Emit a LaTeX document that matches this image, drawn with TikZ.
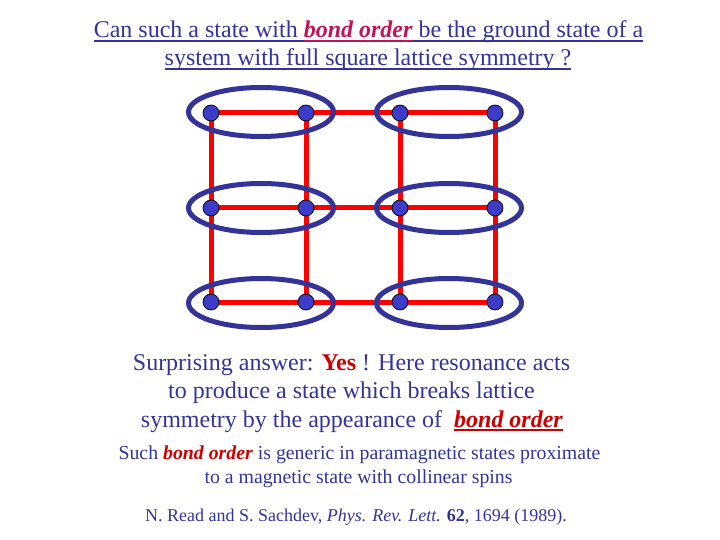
\documentclass[tikz,border=0pt]{standalone}
\usepackage{fontspec}
\setmainfont{Liberation Serif}
\usetikzlibrary{shapes.geometric}
\newcommand\myul[1]{\leavevmode\setbox0\hbox{#1}\rlap{\rule[-4pt]{\wd0}{1.6pt}}\box0}
\definecolor{txtblue}{RGB}{51,51,153}
\definecolor{ellblue}{RGB}{51,51,153}
\definecolor{dotblue}{RGB}{60,60,200}
\definecolor{bondred}{RGB}{255,0,0}
\definecolor{magbond}{RGB}{190,20,90}
\definecolor{darkred}{RGB}{204,0,0}
\begin{document}
\begin{tikzpicture}[x=1pt,y=-1pt,
  txt/.style={anchor=base,inner sep=0pt,text=txtblue},
  big/.style={txt,font=\fontsize{24}{28}\selectfont},
  small/.style={txt,font=\fontsize{19.8}{22}\selectfont},
  bond/.style={draw=bondred,line width=5pt},
  pair/.style={draw=ellblue,line width=5pt,ellipse,minimum width=145pt,minimum height=49pt,inner sep=0pt},
  site/.style={circle,draw=black,line width=0.7pt,fill=dotblue,minimum size=16pt,inner sep=0pt}]
\useasboundingbox (0,0) rectangle (720,540);
% lattice sites
\foreach \i/\x in {1/211,2/306,3/400,4/495}{
  \foreach \j/\y in {1/113,2/208,3/302}{
    \coordinate (p\i\j) at (\x,\y);
  }
}
% red bonds
\foreach \j in {1,2,3}{
  \draw[bond] (p1\j) -- (p4\j);
}
\foreach \i in {1,2,3,4}{
  \draw[bond] (p\i1) -- (p\i3);
}
% ellipses
\foreach \j/\y in {1/112,2/208,3/303}{
  \node[pair] (ea\j) at (261,\y) {};
  \node[pair] (eb\j) at (449,\y) {};
}
% sites
\foreach \i in {1,2,3,4}{
  \foreach \j in {1,2,3}{
    \node[site] (s\i\j) at (p\i\j) {};
  }
}
% title
\node[big] (t1) at (368.5,38) {\myul{Can such a state with }{\color{magbond}\myul{\textbf{\textit{bond order}}}}\myul{ be the ground state of a}};
\node[big] (t2) at (368,66) {\myul{system with full square lattice symmetry ?}};
% middle
\node[big] (m1) at (351.5,370) {Surprising answer: {\color{darkred}\textbf{Yes}} ! Here resonance acts};
\node[big] (m2) at (351.5,398) {to produce a state which breaks lattice};
\node[big] (m3) at (352,427) {symmetry by the appearance of\ \ {\color{darkred}\myul{\textbf{\textit{bond order}}}}};
% lower
\node[small] (l1) at (359.5,459) {Such {\color{darkred}\textbf{\textit{bond order}}} is generic in paramagnetic states proximate};
\node[small] (l2) at (358.5,483) {to a magnetic state with collinear spins};
\node[small,font=\fontsize{18}{20}\selectfont] (r1) at (356,521) {N. Read and S. Sachdev, \textit{Phys. Rev. Lett.} \textbf{62}, 1694 (1989).};
\end{tikzpicture}
\end{document}
